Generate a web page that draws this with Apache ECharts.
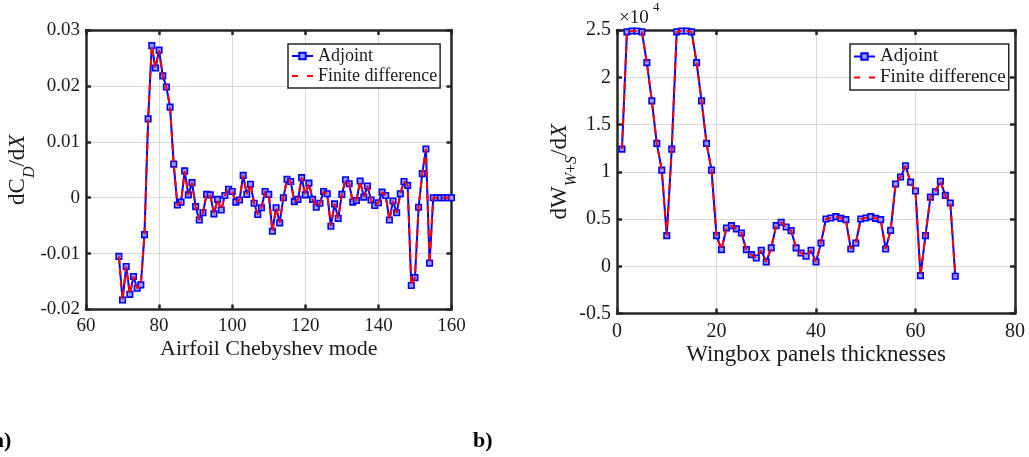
<!DOCTYPE html>
<html>
<head>
<meta charset="utf-8">
<script src="https://cdn.jsdelivr.net/npm/echarts@6/dist/echarts.min.js"></script>
<style>
  html, body { margin: 0; padding: 0; background: #fff; }
  #chart { width: 1029px; height: 457px; }
</style>
</head>
<body>
<div id="chart"></div>
<script>
// ---------- data (a): airfoil Chebyshev modes ----------
const modeStart = 69;
const adjointA = [
  -0.0105, -0.0183, -0.0123, -0.0173, -0.0141, -0.0162, -0.0156, -0.0066, 0.0141, 0.0272,
  0.0232, 0.0264, 0.0218, 0.0198, 0.0162, 0.0060, -0.0013, -0.0008, 0.0048, 0.0005,
  0.0027, -0.0016, -0.0040, -0.0027, 0.0006, 0.0005, -0.0029, -0.0003, -0.0022, 0.0004,
  0.0015, 0.0011, -0.0008, -0.0004, 0.0040, 0.0006, 0.0024, -0.0010, -0.0030, -0.0018,
  0.0011, 0.0006, -0.0060, -0.0018, -0.0045, 0.0000, 0.0033, 0.0029, -0.0007, -0.0003,
  0.0036, 0.0005, 0.0026, -0.0003, -0.0017, -0.0010, 0.0011, 0.0007, -0.0051, -0.0011,
  -0.0037, 0.0006, 0.0032, 0.0025, -0.0008, -0.0005, 0.0030, 0.0001, 0.0021, -0.0004,
  -0.0014, -0.0009, 0.0010, 0.0004, -0.0040, -0.0006, -0.0027, 0.0007, 0.0029, 0.0022,
  -0.0157, -0.0143, -0.0017, 0.0043, 0.0087, -0.0117, 0.0000, 0.0000, 0.0000, 0.0000,
  0.0000, 0.0000
];
const finiteDiffA = [
  -0.0105, -0.0183, -0.0123, -0.0173, -0.0141, -0.0162, -0.0156, -0.0066, 0.0141, 0.0272,
  0.0232, 0.0264, 0.0218, 0.0198, 0.0162, 0.0060, -0.0013, -0.0008, 0.0048, 0.0005,
  0.0027, -0.0016, -0.0040, -0.0027, 0.0006, 0.0005, -0.0029, -0.0003, -0.0022, 0.0004,
  0.0015, 0.0011, -0.0008, -0.0004, 0.0040, 0.0006, 0.0024, -0.0010, -0.0030, -0.0018,
  0.0011, 0.0006, -0.0060, -0.0018, -0.0045, 0.0000, 0.0033, 0.0029, -0.0007, -0.0003,
  0.0036, 0.0005, 0.0026, -0.0003, -0.0017, -0.0010, 0.0011, 0.0007, -0.0051, -0.0011,
  -0.0037, 0.0006, 0.0032, 0.0025, -0.0008, -0.0005, 0.0030, 0.0001, 0.0021, -0.0004,
  -0.0014, -0.0009, 0.0010, 0.0004, -0.0040, -0.0006, -0.0027, 0.0007, 0.0029, 0.0022,
  -0.0157, -0.0143, -0.0017, 0.0043, 0.0087, -0.0117, 0.0000, 0.0000, 0.0000, 0.0000,
  0.0000, 0.0000
];
const xTicksA = [60, 80, 100, 120, 140, 160];
const yTicksA = [-0.02, -0.01, 0, 0.01, 0.02, 0.03];

// ---------- data (b): wingbox panel thicknesses ----------
const panelStart = 1;
const adjointB = [
  12390, 24800, 24900, 24900, 24800, 21550, 17500, 13000, 10170, 3240,
  12390, 24800, 24900, 24900, 24800, 21550, 17500, 13000, 10170, 3240,
  1760, 4050, 4300, 3950, 3520, 1760, 1230, 880, 1690, 460,
  1940, 4300, 4650, 4150, 3770, 1940, 1410, 1060, 1690, 460,
  2460, 5000, 5100, 5250, 5070, 4930, 1830, 2460, 5000, 5100,
  5250, 5070, 4930, 1830, 3800, 8700, 9440, 10630, 8900, 7960,
  -990, 3240, 7320, 7890, 9000, 7500, 6690, -1060
];
const finiteDiffB = [
  12390, 24800, 24900, 24900, 24800, 21550, 17500, 13000, 10170, 3240,
  12390, 24800, 24900, 24900, 24800, 21550, 17500, 13000, 10170, 3240,
  1760, 4050, 4300, 3950, 3520, 1760, 1230, 880, 1690, 460,
  1940, 4300, 4650, 4150, 3770, 1940, 1410, 1060, 1690, 460,
  2460, 5000, 5100, 5250, 5070, 4930, 1830, 2460, 5000, 5100,
  5250, 5070, 4930, 1830, 3800, 8700, 9440, 10630, 8900, 7960,
  -990, 3240, 7320, 7890, 9000, 7500, 6690, -1060
];
const xTicksB = [0, 20, 40, 60, 80];
const yTicksB = [-5000, 0, 5000, 10000, 15000, 20000, 25000];
const yScaleB = 1e4;

const seriesNames = ['Adjoint', 'Finite difference'];

// ---------- style ----------
const FONT = 'Liberation Serif';
const INK = '#1a1a1a';
const AXIS = '#262626';
const GRID = '#d9d9d9';
const BLUE = '#0000ff';
const RED = '#ff0000';
const DASH = [7, 5];

function pairs(start, vals) { return vals.map((v, i) => [start + i, v]); }

function fmtA(v) { const r = Math.round(v * 1000) / 1000; return r === 0 ? '0' : String(r); }
function fmtB(v) { const r = Math.round(v / yScaleB * 100) / 100; return r === 0 ? '0' : String(r); }

function axisBase(fontSize) {
  return {
    axisLine: { show: true, onZero: false, lineStyle: { color: AXIS, width: 2.5 } },
    axisTick: { show: true, inside: true, length: 5, lineStyle: { color: AXIS, width: 2.5 } },
    axisLabel: { color: INK, fontFamily: FONT, fontSize: fontSize },
    splitLine: { show: true, lineStyle: { color: GRID, width: 1 } }
  };
}

function mkX(gridIndex, ticks, fontSize, labelMargin, name, nameGap, nameSize) {
  const b = axisBase(fontSize);
  return [
    Object.assign({}, b, {
      type: 'value', gridIndex, position: 'bottom',
      min: ticks[0], max: ticks[ticks.length - 1], interval: ticks[1] - ticks[0],
      axisLabel: Object.assign({}, b.axisLabel, { margin: labelMargin, showMinLabel: true, showMaxLabel: true }),
      name: name, nameLocation: 'middle', nameGap: nameGap, nameMoveOverlap: false,
      nameTextStyle: { color: INK, fontFamily: FONT, fontSize: nameSize }
    }),
    Object.assign({}, b, {
      type: 'value', gridIndex, position: 'top',
      min: ticks[0], max: ticks[ticks.length - 1], interval: ticks[1] - ticks[0],
      axisLabel: { show: false }, splitLine: { show: false }
    })
  ];
}

function mkY(gridIndex, ticks, fontSize, fmt, name, nameGap, rich) {
  const b = axisBase(fontSize);
  return [
    Object.assign({}, b, {
      type: 'value', gridIndex, position: 'left',
      min: ticks[0], max: ticks[ticks.length - 1], interval: ticks[1] - ticks[0],
      axisLabel: Object.assign({}, b.axisLabel, { margin: 6, formatter: fmt, showMinLabel: true, showMaxLabel: true }),
      name: name, nameLocation: 'middle', nameRotate: 90, nameGap: nameGap, nameMoveOverlap: false,
      nameTextStyle: { color: INK, fontFamily: FONT, rich: rich }
    }),
    Object.assign({}, b, {
      type: 'value', gridIndex, position: 'right',
      min: ticks[0], max: ticks[ticks.length - 1], interval: ticks[1] - ticks[0],
      axisLabel: { show: false }, splitLine: { show: false }
    })
  ];
}

function mkSeries(idx, adj, fd, start) {
  return [
    {
      name: seriesNames[0], type: 'line', xAxisIndex: idx * 2, yAxisIndex: idx * 2,
      data: pairs(start, adj), clip: false, animation: false,
      symbol: 'rect', symbolSize: 5.5, showSymbol: true,
      lineStyle: { color: BLUE, width: 2 },
      itemStyle: { color: '#9c9cff', borderColor: BLUE, borderWidth: 1.6 },
      z: 2
    },
    {
      name: seriesNames[1], type: 'line', xAxisIndex: idx * 2, yAxisIndex: idx * 2,
      data: pairs(start, fd), clip: false, animation: false,
      symbol: 'none', showSymbol: false,
      lineStyle: { color: RED, width: 2, type: DASH },
      itemStyle: { color: RED },
      z: 3
    }
  ];
}

const richA = {
  m: { fontFamily: FONT, fontSize: 23, lineHeight: 40, color: INK },
  i: { fontFamily: FONT, fontSize: 23, lineHeight: 40, fontStyle: 'italic', color: INK },
  s: { fontFamily: FONT, fontSize: 16, lineHeight: 16, fontStyle: 'italic', verticalAlign: 'bottom', color: INK }
};
const richB = {
  m: { fontFamily: FONT, fontSize: 23, lineHeight: 40, color: INK },
  i: { fontFamily: FONT, fontSize: 23, lineHeight: 40, fontStyle: 'italic', color: INK },
  s: { fontFamily: FONT, fontSize: 16, lineHeight: 16, fontStyle: 'italic', verticalAlign: 'bottom', color: INK },
  p: { fontFamily: FONT, fontSize: 16, lineHeight: 16, verticalAlign: 'bottom', color: INK }
};

const xA = mkX(0, xTicksA, 19, 7, 'Airfoil Chebyshev mode', 29, 22);
const xB = mkX(1, xTicksB, 20, 8, 'Wingbox panels thicknesses', 30, 23);
const yA = mkY(0, yTicksA, 19, fmtA, '{m|dC}{s|D}{m|/d}{i|X}', 48, richA);
const yB = mkY(1, yTicksB, 20, fmtB, '{m|dW}{s|W}{p|+}{s|S}{m|/d}{i|X}', 37, richB);

function mkLegend(id, left, top, fontSize) {
  return {
    id: id,
    orient: 'vertical', left: left, top: top,
    data: [
      { name: seriesNames[0] },
      { name: seriesNames[1], itemStyle: { opacity: 0 }, lineStyle: { color: RED, width: 2, type: [6, 9] } }
    ],
    backgroundColor: '#ffffff',
    borderColor: AXIS, borderWidth: 1.5,
    padding: [3, 3, 3, 3], itemGap: 2,
    itemWidth: 21, itemHeight: 8,
    textStyle: { color: INK, fontFamily: FONT, fontSize: fontSize },
    selectedMode: false
  };
}

const option = {
  backgroundColor: '#ffffff',
  animation: false,
  grid: [
    { left: 86, top: 30, width: 365.5, height: 279.5, outerBoundsMode: 'none', containLabel: false },
    { left: 617, top: 30, width: 398, height: 283.5, outerBoundsMode: 'none', containLabel: false }
  ],
  xAxis: [xA[0], xA[1], xB[0], xB[1]],
  yAxis: [yA[0], yA[1], yB[0], yB[1]],
  legend: [
    mkLegend('la', 288, 44, 18),
    mkLegend('lb', 850, 44, 19)
  ],
  series: [].concat(mkSeries(0, adjointA, finiteDiffA, modeStart), mkSeries(1, adjointB, finiteDiffB, panelStart)),
  graphic: [
    { type: 'text', x: 619, y: 9, style: { text: '×10', font: '19px "Liberation Serif"', fill: INK, verticalAlign: 'top' } },
    { type: 'text', x: 653, y: 1, style: { text: '4', font: '13px "Liberation Serif"', fill: INK, verticalAlign: 'top' } },
    { type: 'text', x: -7, y: 430, style: { text: 'a)', font: 'bold 22px "Liberation Serif"', fill: '#000', verticalAlign: 'top' } },
    { type: 'text', x: 473, y: 430, style: { text: 'b)', font: 'bold 22px "Liberation Serif"', fill: '#000', verticalAlign: 'top' } }
  ]
};

const chart = echarts.init(document.getElementById('chart'), null, { renderer: 'canvas' });
chart.setOption(option);
</script>
</body>
</html>
